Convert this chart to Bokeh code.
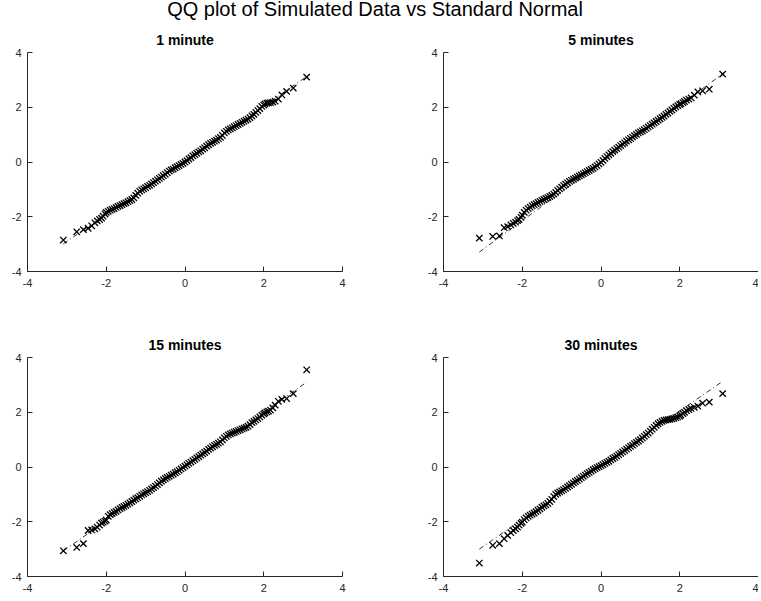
from bokeh.plotting import figure
from bokeh.models import Range1d, FixedTicker, Div
from bokeh.layouts import row, column
from bokeh.embed import file_html
from bokeh.resources import INLINE

SUPTITLE = "QQ plot of Simulated Data vs Standard Normal"
PANEL_TITLES = ["1 minute", "5 minutes", "15 minutes", "30 minutes"]
TICKS = [-4, -2, 0, 2, 4]
TICK_LABELS = {-4: "-4", -2: "-2", 0: "0", 2: "2", 4: "4"}

# Theoretical standard-normal quantiles (x)
QX = [-3.09, -2.75, -2.58, -2.46, -2.37, -2.29, -2.23, -2.17, -2.12, -2.08, -2.03, -2.00,
      -1.95, -1.90, -1.85, -1.80, -1.75, -1.70, -1.65, -1.60, -1.55, -1.50,
      -1.45, -1.40, -1.35, -1.30, -1.25, -1.20, -1.15, -1.10, -1.05, -1.00,
      -0.95, -0.90, -0.85, -0.80, -0.75, -0.70, -0.65, -0.60, -0.55, -0.50,
      -0.45, -0.40, -0.35, -0.30, -0.25, -0.20, -0.15, -0.10, -0.05, 0.00,
      0.05, 0.10, 0.15, 0.20, 0.25, 0.30, 0.35, 0.40, 0.45, 0.50,
      0.55, 0.60, 0.65, 0.70, 0.75, 0.80, 0.85, 0.90, 0.95, 1.00,
      1.05, 1.10, 1.15, 1.20, 1.25, 1.30, 1.35, 1.40, 1.45, 1.50,
      1.55, 1.60, 1.65, 1.70, 1.75, 1.80, 1.85, 1.90, 1.95,
      2.00, 2.03, 2.08, 2.12, 2.17, 2.23, 2.29, 2.37, 2.46, 2.58, 2.75, 3.09]

# Sample quantiles (y) per panel
Y_1MIN = [-2.85, -2.55, -2.47, -2.42, -2.33, -2.22, -2.15, -2.10, -2.05, -1.98, -1.90, -1.84,
          -1.80, -1.76, -1.73, -1.70, -1.66, -1.62, -1.59, -1.56, -1.52, -1.49,
          -1.45, -1.41, -1.37, -1.31, -1.22, -1.14, -1.07, -1.02, -0.98, -0.94,
          -0.89, -0.85, -0.80, -0.75, -0.70, -0.65, -0.60, -0.55, -0.50, -0.45,
          -0.39, -0.33, -0.29, -0.26, -0.21, -0.17, -0.13, -0.09, -0.05, 0.00,
          0.05, 0.11, 0.16, 0.22, 0.27, 0.32, 0.37, 0.41, 0.47, 0.52,
          0.58, 0.63, 0.68, 0.72, 0.76, 0.80, 0.85, 0.90, 0.97, 1.06,
          1.12, 1.17, 1.21, 1.25, 1.29, 1.33, 1.37, 1.41, 1.45, 1.49,
          1.53, 1.57, 1.62, 1.68, 1.74, 1.81, 1.88, 1.95, 2.03,
          2.08, 2.12, 2.15, 2.16, 2.17, 2.19, 2.22, 2.30, 2.45, 2.58, 2.70, 3.10]

Y_5MIN = [-2.78, -2.72, -2.70, -2.40, -2.36, -2.30, -2.24, -2.20, -2.14, -2.10, -2.02, -1.94,
          -1.84, -1.76, -1.70, -1.65, -1.60, -1.56, -1.52, -1.48, -1.44, -1.40,
          -1.37, -1.33, -1.30, -1.26, -1.22, -1.17, -1.11, -1.04, -0.98, -0.92,
          -0.86, -0.81, -0.76, -0.71, -0.67, -0.63, -0.59, -0.55, -0.51, -0.47,
          -0.43, -0.39, -0.35, -0.31, -0.27, -0.23, -0.18, -0.13, -0.07, -0.01,
          0.06, 0.13, 0.20, 0.26, 0.32, 0.38, 0.43, 0.49, 0.54, 0.60,
          0.65, 0.70, 0.76, 0.81, 0.86, 0.91, 0.96, 1.01, 1.06, 1.10,
          1.14, 1.18, 1.23, 1.28, 1.33, 1.38, 1.43, 1.48, 1.53, 1.58,
          1.63, 1.68, 1.74, 1.79, 1.85, 1.90, 1.96, 2.01, 2.06,
          2.10, 2.13, 2.17, 2.21, 2.26, 2.30, 2.34, 2.44, 2.56, 2.60, 2.66, 3.21]

Y_15MIN = [-3.06, -2.94, -2.80, -2.32, -2.30, -2.26, -2.20, -2.12, -2.05, -2.01, -1.98, -1.94,
           -1.80, -1.74, -1.70, -1.66, -1.62, -1.57, -1.52, -1.48, -1.44, -1.40,
           -1.36, -1.31, -1.26, -1.21, -1.16, -1.12, -1.07, -1.02, -0.98, -0.94,
           -0.90, -0.85, -0.80, -0.75, -0.70, -0.64, -0.58, -0.52, -0.47, -0.42,
           -0.38, -0.34, -0.30, -0.26, -0.21, -0.17, -0.12, -0.07, -0.02, 0.03,
           0.08, 0.13, 0.18, 0.23, 0.28, 0.33, 0.38, 0.43, 0.48, 0.53,
           0.58, 0.64, 0.69, 0.74, 0.79, 0.83, 0.87, 0.92, 0.99, 1.06,
           1.12, 1.17, 1.21, 1.24, 1.27, 1.30, 1.33, 1.36, 1.39, 1.42,
           1.45, 1.49, 1.55, 1.62, 1.67, 1.72, 1.77, 1.83, 1.89,
           1.94, 1.98, 2.01, 2.04, 2.08, 2.16, 2.26, 2.40, 2.47, 2.50, 2.68, 3.55]

Y_30MIN = [-3.51, -2.86, -2.80, -2.62, -2.50, -2.40, -2.32, -2.26, -2.20, -2.12, -2.06, -2.01,
           -1.93, -1.86, -1.80, -1.76, -1.72, -1.68, -1.63, -1.58, -1.53, -1.47,
           -1.42, -1.38, -1.33, -1.26, -1.18, -1.08, -1.00, -0.95, -0.91, -0.87,
           -0.83, -0.78, -0.73, -0.68, -0.63, -0.58, -0.53, -0.49, -0.44, -0.39,
           -0.34, -0.29, -0.24, -0.20, -0.15, -0.10, -0.06, -0.02, 0.01, 0.05,
           0.09, 0.13, 0.17, 0.21, 0.26, 0.31, 0.35, 0.40, 0.45, 0.50,
           0.55, 0.60, 0.65, 0.70, 0.75, 0.80, 0.85, 0.90, 0.95, 1.00,
           1.06, 1.12, 1.18, 1.24, 1.31, 1.38, 1.45, 1.52, 1.58, 1.63,
           1.67, 1.70, 1.72, 1.73, 1.74, 1.76, 1.78, 1.80, 1.83,
           1.86, 1.90, 1.95, 2.00, 2.06, 2.10, 2.14, 2.18, 2.22, 2.33, 2.37, 2.68]

# Reference (dash-dot) line end points per panel
LINE_X = [-3.09, 3.09]
LINE_Y = [[-2.99, 3.12], [-3.29, 3.22], [-3.06, 3.10], [-3.00, 3.13]]

SERIES = [Y_1MIN, Y_5MIN, Y_15MIN, Y_30MIN]

AX = "#262626"
FONT = "Liberation Sans"


def make_panel(i, bl, br, bt, bb):
    p = figure(frame_width=315, frame_height=219,
               x_range=Range1d(-4, 4), y_range=Range1d(-4, 4),
               output_backend="svg", toolbar_location=None,
               min_border_left=bl, min_border_right=br,
               min_border_top=bt, min_border_bottom=bb,
               background_fill_color="white", border_fill_color="white")
    p.outline_line_color = None
    p.grid.visible = False
    p.title.text = PANEL_TITLES[i]
    p.title.align = "center"
    p.title.text_font = FONT
    p.title.text_font_size = "14px"
    p.title.text_font_style = "bold"
    p.title.text_color = "black"
    p.title.standoff = 10
    for ax in (p.xaxis[0], p.yaxis[0]):
        ax.ticker = FixedTicker(ticks=TICKS)
        ax.major_label_overrides = TICK_LABELS
        ax.minor_tick_line_color = None
        ax.major_tick_in = 5
        ax.major_tick_out = 0
        ax.axis_line_color = AX
        ax.major_tick_line_color = AX
        ax.major_label_text_color = AX
        ax.major_label_text_font = FONT
        ax.major_label_text_font_size = "11px"
    p.xaxis[0].major_label_standoff = 7
    p.yaxis[0].major_label_standoff = 6
    p.line(LINE_X, LINE_Y[i], line_color="black", line_width=0.8, line_dash="5 3 1 3")
    p.scatter(QX, SERIES[i], marker="x", size=9, line_color="black", line_width=1.3)
    return p


p1 = make_panel(0, 27, 40, 27, 38)
p2 = make_panel(1, 61, 0, 27, 38)
p3 = make_panel(2, 27, 40, 48, 20)
p4 = make_panel(3, 61, 0, 48, 20)

title = Div(text=SUPTITLE, width=758, height=14,
            styles={"text-align": "center", "font-size": "20px", "font-family": FONT,
                    "color": "black", "line-height": "22px", "white-space": "nowrap",
                    "position": "relative", "top": "-7px", "left": "-9px"})

layout = column(title, row(p1, p2), row(p3, p4))

open("out.html", "w").write(file_html(layout, INLINE))
